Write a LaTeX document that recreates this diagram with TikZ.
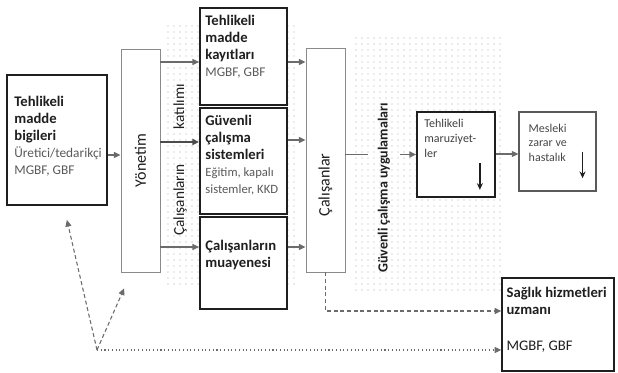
\documentclass[tikz,border=0pt]{standalone}
\usepackage{fontspec}
\setmainfont{Carlito}
\usetikzlibrary{arrows.meta,positioning,calc}
\definecolor{DiagInk}{HTML}{1F1F1F}
\definecolor{DiagGray}{HTML}{5A5A5A}
\definecolor{DiagLine}{HTML}{6B6B6B}
\definecolor{DiagFrame}{HTML}{8A8A8A}
\definecolor{DiagDot}{HTML}{A8A8A8}
\newcommand{\subline}[1]{{\mdseries\fontsize{10}{11.6}\selectfont\color{DiagGray}#1}}
\newcommand{\smallline}[1]{{\mdseries\fontsize{9.5}{11}\selectfont\color{DiagGray}#1}}

\begin{document}
\begin{tikzpicture}[
  x=0.75pt, y=-0.75pt,
  heavybox/.style={draw=DiagInk, line width=1.3pt, fill=white, inner sep=0pt},
  lightbox/.style={draw=DiagFrame, line width=0.7pt, fill=white, inner sep=0pt},
  boxtext/.style={inner sep=0pt, align=left, text=DiagInk, font=\fontsize{11}{12.8}\selectfont\bfseries},
  notetext/.style={inner sep=0pt, align=left, text=DiagInk!85, font=\fontsize{9}{11.2}\selectfont},
  vtext/.style={inner sep=0pt, rotate=90, text=DiagInk},
  arrow/.style={-{Triangle[length=5pt,width=4.5pt]}, line width=0.9pt, color=DiagLine},
  feedback/.style={-{Triangle[length=5pt,width=4.5pt]}, line width=0.8pt, densely dashed, color=DiagLine},
  dotfeed/.style={-{Triangle[length=5pt,width=4.5pt]}, line width=0.8pt, dotted, color=DiagLine},
  downarrow/.style={-{Stealth[length=5pt,width=4.5pt]}, line width=1.1pt, color=DiagInk}
]
\useasboundingbox (0,0) rectangle (618,373);

% dotted backgrounds
\foreach \dx in {168,174,...,298}
  \foreach \dy in {26,32,...,284}
    \fill[DiagDot] (\dx,\dy) circle (0.5pt);
\foreach \dx in {356,362,...,500}
  \foreach \dy in {38,44,...,290}
    \fill[DiagDot] (\dx,\dy) circle (0.5pt);

% boxes
\node[heavybox, minimum width=75pt, minimum height=97.5pt] (info) at (57,140) {};
\node[lightbox, minimum width=29.25pt, minimum height=167.25pt] (yonetim) at (140.5,160.5) {};
\node[heavybox, minimum width=65.25pt, minimum height=72.75pt] (kayit) at (243.5,56.5) {};
\node[heavybox, minimum width=65.25pt, minimum height=79.5pt] (guvenli) at (243.5,161) {};
\node[heavybox, minimum width=65.25pt, minimum height=69pt] (muayene) at (243.5,263) {};
\node[lightbox, minimum width=29.25pt, minimum height=168pt] (calisan) at (325.5,160) {};
\node[heavybox, minimum width=58.5pt, minimum height=63.75pt] (maruz) at (456,154.5) {};
\node[lightbox, draw=DiagGray, line width=0.8pt, minimum width=57.75pt, minimum height=59.25pt] (mesleki) at (557.5,151.5) {};
\node[heavybox, line width=1pt, minimum width=84pt, minimum height=69.75pt] (saglik) at (558,324.5) {};

% texts
\node[boxtext, below right=16.5pt and 6pt of info.north west] (infotxt)
  {Tehlikeli\\madde\\bigileri\\\subline{Üretici/tedarikçi}\\\subline{MGBF, GBF}};
\node[boxtext, below right=6pt and 4.5pt of kayit.north west] (kayittxt)
  {Tehlikeli\\madde\\kayıtları\\\subline{MGBF, GBF}};
\node[boxtext, below right=5.5pt and 4.5pt of guvenli.north west] (guvenlitxt)
  {Güvenli\\çalışma\\sistemleri\\\smallline{Eğitim, kapalı}\\\smallline{sistemler, KKD}};
\node[boxtext, below right=18pt and 4.5pt of muayene.north west] (muayenetxt)
  {Çalışanların\\muayenesi};
\node[notetext, below right=6pt and 6pt of maruz.north west] (maruztxt)
  {Tehlikeli\\maruziyet-\\ler};
\node[notetext, text=DiagGray!80!black, below right=9pt and 7.5pt of mesleki.north west] (meslekitxt)
  {Mesleki\\zarar ve\\hastalık};
\node[boxtext, below right=7pt and 3.75pt of saglik.north west] (saglıktxt)
  {Sağlık hizmetleri\\uzmanı\\[14pt]\mdseries MGBF, GBF};

\node[vtext, font=\fontsize{12}{14}\selectfont] (yonetimtxt) at (yonetim.center) {Yönetim};
\node[vtext, font=\fontsize{12}{14}\selectfont] (calisantxt) at ([yshift=-18.75pt]calisan.center) {Çalışanlar};
\node[vtext, font=\fontsize{11.5}{14}\selectfont] (katilim) at (180,160) {Çalışanların\hspace{26pt}katılımı};
\node[vtext, font=\fontsize{10.5}{13}\selectfont\bfseries] (guvuyg) at (384,188) {Güvenli çalışma uygulamaları};

% connectors
\draw[arrow] (info.east |- 0,155) -- (yonetim.west |- 0,155);
\draw[arrow] (yonetim.east |- 0,62) -- (kayit.west |- 0,62);
\draw[arrow, line width=1.4pt, color=DiagInk!80] (yonetim.east |- 0,142) -- (guvenli.west |- 0,142);
\draw[arrow] (yonetim.east |- 0,247) -- (muayene.west |- 0,247);
\draw[arrow] (kayit.east |- 0,62) -- (calisan.west |- 0,62);
\draw[arrow] (guvenli.east |- 0,140) -- (calisan.west |- 0,140);
\draw[arrow] (muayene.east |- 0,247) -- (calisan.west |- 0,247);
\draw[line width=0.9pt, DiagLine] (calisan.east |- maruz.west) -- ([xshift=-7.5pt]guvuyg.north |- maruz.west);
\draw[arrow] ([xshift=7pt]guvuyg.south |- maruz.west) -- (maruz.west);
\draw[arrow] (maruz.east |- 0,154) -- (mesleki.west |- 0,154);

% feedback to health expert
\coordinate (hub) at (97,350);
\draw[feedback] (calisan.south) |- (saglik.west |- 0,311);
\draw[dotfeed] (hub) -- (saglik.west |- hub);
\draw[feedback, shorten >=10.8pt] (hub) -- ([xshift=5pt]info.south);
\draw[feedback, shorten >=13pt] (hub) -- ([xshift=-7pt]yonetim.south);

% decrease arrows
\draw[downarrow] ([shift={(-12pt,26pt)}]maruz.south east) -- ++(0pt,-20pt);
\draw[downarrow] ([shift={(-10.5pt,30pt)}]mesleki.south east) -- ++(0pt,-20pt);
\end{tikzpicture}
\end{document}
